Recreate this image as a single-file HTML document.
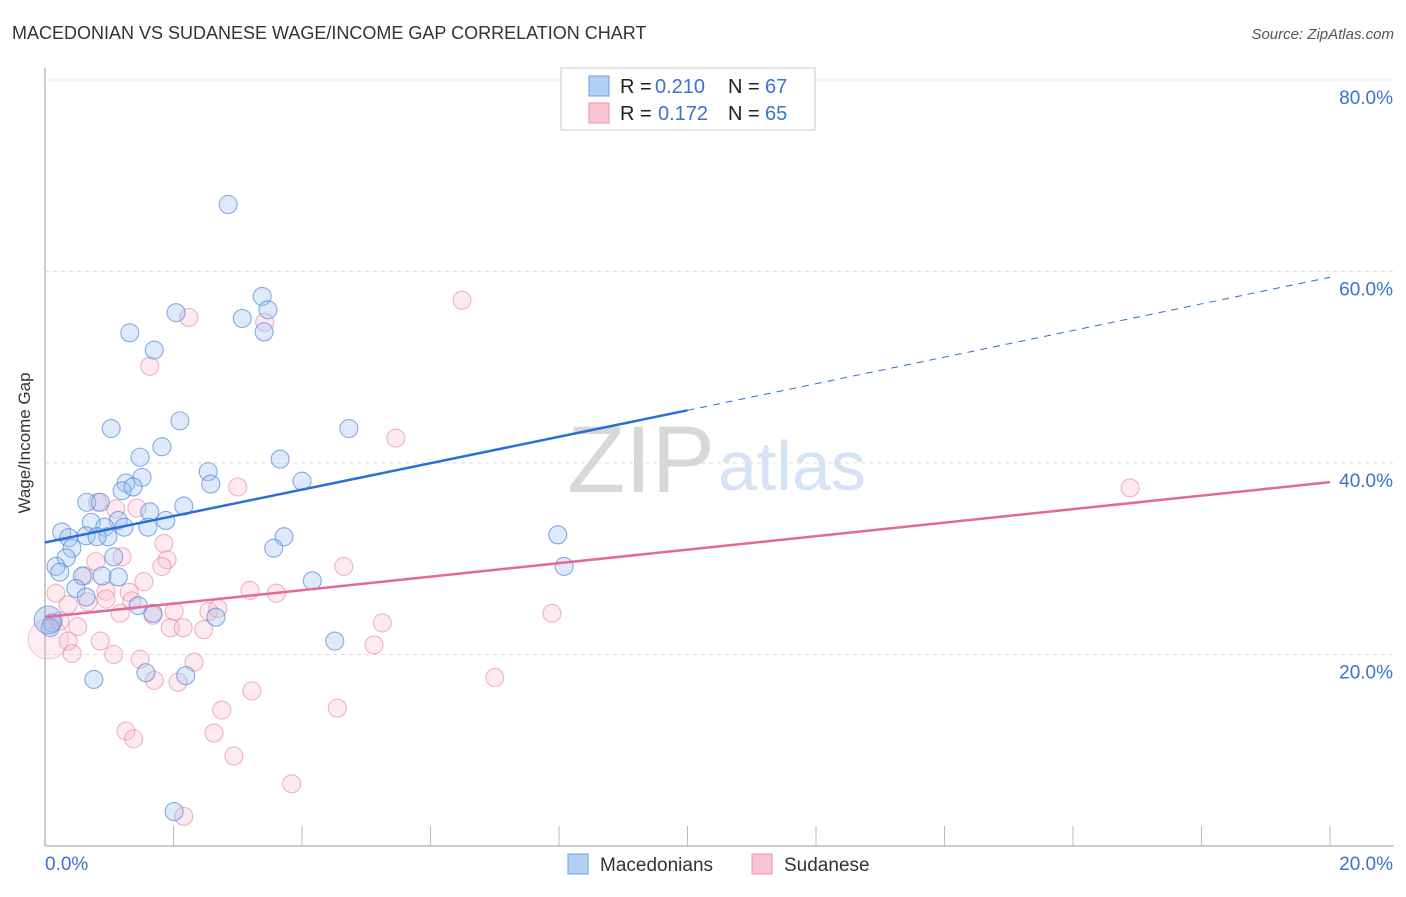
<!DOCTYPE html>
<html><head><meta charset="utf-8"><style>
body{margin:0;background:#fff;font-family:"Liberation Sans",sans-serif;}
svg text{font-family:"Liberation Sans",sans-serif;}
</style></head><body>
<svg id="chart" width="1406" height="892" xmlns="http://www.w3.org/2000/svg">
<text x="12" y="39" font-size="18" fill="#333">MACEDONIAN VS SUDANESE WAGE/INCOME GAP CORRELATION CHART</text>
<text x="1394" y="39" font-size="15" fill="#555" font-style="italic" text-anchor="end">Source: ZipAtlas.com</text>
<text x="42" y="455" font-size="17" fill="#333" transform="rotate(-90 30 455)" text-anchor="middle">Wage/Income Gap</text>
<g id="grid"></g>
<text x="715" y="492" font-size="95" fill="#d8d8d8" text-anchor="end" font-family="Liberation Serif">ZIP</text>
<text x="718" y="490" font-size="70" fill="#d6e2f5">atlas</text>
<g id="pts"></g>
<g id="lines"></g>
<g>
<rect x="561" y="68" width="254" height="62" fill="#fff" stroke="#ccc"/>
<rect x="589" y="76" width="20" height="20" fill="#b3cff3" stroke="#6fa0e3"/>
<rect x="589" y="103" width="20" height="20" fill="#f9c4d3" stroke="#ee91ad"/>
<text y="93" font-size="20" fill="#222"><tspan x="620">R =</tspan><tspan x="655" fill="#3a72d4">0.210</tspan><tspan x="728">N =</tspan><tspan x="765" fill="#3a72d4">67</tspan></text>
<text y="120" font-size="20" fill="#222"><tspan x="620">R =</tspan><tspan x="658" fill="#3a72d4">0.172</tspan><tspan x="728">N =</tspan><tspan x="765" fill="#3a72d4">65</tspan></text>
</g>
<g>
<rect x="568" y="854" width="20" height="20" fill="#b3cff3" stroke="#6fa0e3"/>
<text x="600" y="871" font-size="19" fill="#333">Macedonians</text>
<rect x="752" y="854" width="20" height="20" fill="#f9c4d3" stroke="#ee91ad"/>
<text x="784" y="871" font-size="19" fill="#333">Sudanese</text>
</g>
</svg>
<script>
const xTicks=[0,2,4,6,8,10,12,14,16,18,20];
const yTicks=[20,40,60,80];
const blueX=[2.85,3.38,3.47,2.04,3.07,1.32,3.41,1.70,2.10,1.03,4.73,1.82,1.48,3.66,2.54,1.51,2.58,4.00,1.26,1.20,1.37,0.65,0.86,2.16,1.63,0.72,1.14,1.88,1.23,1.60,0.93,0.26,0.37,0.64,0.98,0.81,3.72,7.98,0.42,0.33,3.56,1.07,0.17,0.23,8.08,0.89,1.14,0.58,4.16,0.48,0.64,1.45,1.68,2.66,0.11,0.08,4.51,1.57,2.19,0.76,2.01];
const blueY=[67.0,57.4,56.0,55.7,55.1,53.6,53.7,51.8,44.4,43.6,43.6,41.7,40.6,40.4,39.1,38.5,37.8,38.1,37.9,37.1,37.5,35.9,35.9,35.5,34.9,33.8,34.0,34.0,33.3,33.3,33.3,32.8,32.2,32.4,32.3,32.3,32.3,32.5,31.1,30.1,31.1,30.2,29.2,28.6,29.2,28.2,28.1,28.2,27.7,26.9,26.0,25.1,24.3,23.9,23.3,22.8,21.4,18.1,17.8,17.4,3.6];
const pinkX=[6.49,2.24,3.42,1.63,5.46,16.89,3.00,0.82,1.10,1.43,1.85,1.20,1.90,0.79,1.82,4.65,0.61,1.54,0.17,3.19,3.60,0.95,1.31,0.95,0.67,1.35,0.36,2.01,2.55,2.69,7.89,1.17,1.68,0.23,5.25,0.51,1.95,2.15,2.47,0.86,0.36,5.12,0.42,1.07,2.32,1.48,1.70,2.07,7.00,3.22,2.75,4.55,1.26,1.38,2.63,2.94,3.84,2.16];
const pinkY=[57.0,55.2,54.7,50.1,42.6,37.4,37.5,35.9,35.2,35.3,31.6,30.2,29.9,29.7,29.2,29.2,28.2,27.6,26.4,26.7,26.4,26.6,26.5,25.8,25.5,25.6,25.2,24.5,24.5,24.8,24.3,24.3,24.1,23.5,23.3,22.9,22.8,22.8,22.6,21.4,21.4,21.0,20.1,20.0,19.2,19.5,17.3,17.1,17.6,16.2,14.2,14.4,12.0,11.2,11.8,9.4,6.5,3.1];
const blueTrend=[31.7,45.5,59.4];
const pinkTrend=[23.9,38.0];
const NS='http://www.w3.org/2000/svg';
const sx=v=>45+v*64.25, sy=v=>846-v*9.575;
function mk(t,a,p){const e=document.createElementNS(NS,t);for(const k in a)e.setAttribute(k,a[k]);p.appendChild(e);return e;}
const g=document.getElementById('grid');
const ax=mk('line',{x1:45,y1:846,x2:1394,y2:846,stroke:'#bbb','stroke-width':1.5},g);


const ay=mk('line',{x1:45,y1:68,x2:45,y2:846,stroke:'#bbb','stroke-width':1.5},g);


xTicks.forEach(v=>{if(v===0)return;const t=mk('line',{x1:sx(v),y1:826,x2:sx(v),y2:846,stroke:'#bbb'},g);

});
yTicks.forEach(v=>{const l=mk('line',{x1:45,y1:sy(v),x2:1394,y2:sy(v),stroke:'#ddd','stroke-dasharray':'4,4'},g);


const t=mk('text',{x:1393,y:sy(v)+24,'font-size':19,fill:'#3a72d4','text-anchor':'end'},g);t.textContent=v.toFixed(1)+'%';

});
const xl=mk('text',{x:45,y:870,'font-size':19,fill:'#3a72d4'},g);xl.textContent=xTicks[0].toFixed(1)+'%';


const xr=mk('text',{x:1393,y:870,'font-size':19,fill:'#3a72d4','text-anchor':'end'},g);xr.textContent=xTicks[xTicks.length-1].toFixed(1)+'%';


const P=document.getElementById('pts');
pinkX.forEach((x,i)=>{const c=mk('circle',{cx:sx(x),cy:sy(pinkY[i]),r:9,fill:'rgba(248,185,203,0.3)',stroke:'rgba(232,130,162,0.6)','stroke-width':1.1},P);

});
blueX.forEach((x,i)=>{const c=mk('circle',{cx:sx(x),cy:sy(blueY[i]),r:9,fill:'rgba(160,196,240,0.35)',stroke:'rgba(70,130,215,0.65)','stroke-width':1.1},P);

});
const bigp=mk('circle',{cx:sx(0.05),cy:sy(21.6),r:20,fill:'rgba(248,185,203,0.25)',stroke:'rgba(232,130,162,0.45)'},P);


const bigb=mk('circle',{cx:sx(0.05),cy:sy(23.6),r:14,fill:'rgba(130,170,232,0.35)',stroke:'rgba(70,130,215,0.6)'},P);


const L=document.getElementById('lines');
const b1=mk('line',{x1:sx(0),y1:sy(blueTrend[0]),x2:sx(10),y2:sy(blueTrend[1]),stroke:'#2b6fd6','stroke-width':2.5},L);


const b2=mk('line',{x1:sx(10),y1:sy(blueTrend[1]),x2:sx(20),y2:sy(blueTrend[2]),stroke:'#2b6fd6','stroke-width':1,'stroke-dasharray':'7,6'},L);


const p1=mk('line',{x1:sx(0),y1:sy(pinkTrend[0]),x2:sx(20),y2:sy(pinkTrend[1]),stroke:'#e5689a','stroke-width':2.5},L);


</script>
</body></html>
